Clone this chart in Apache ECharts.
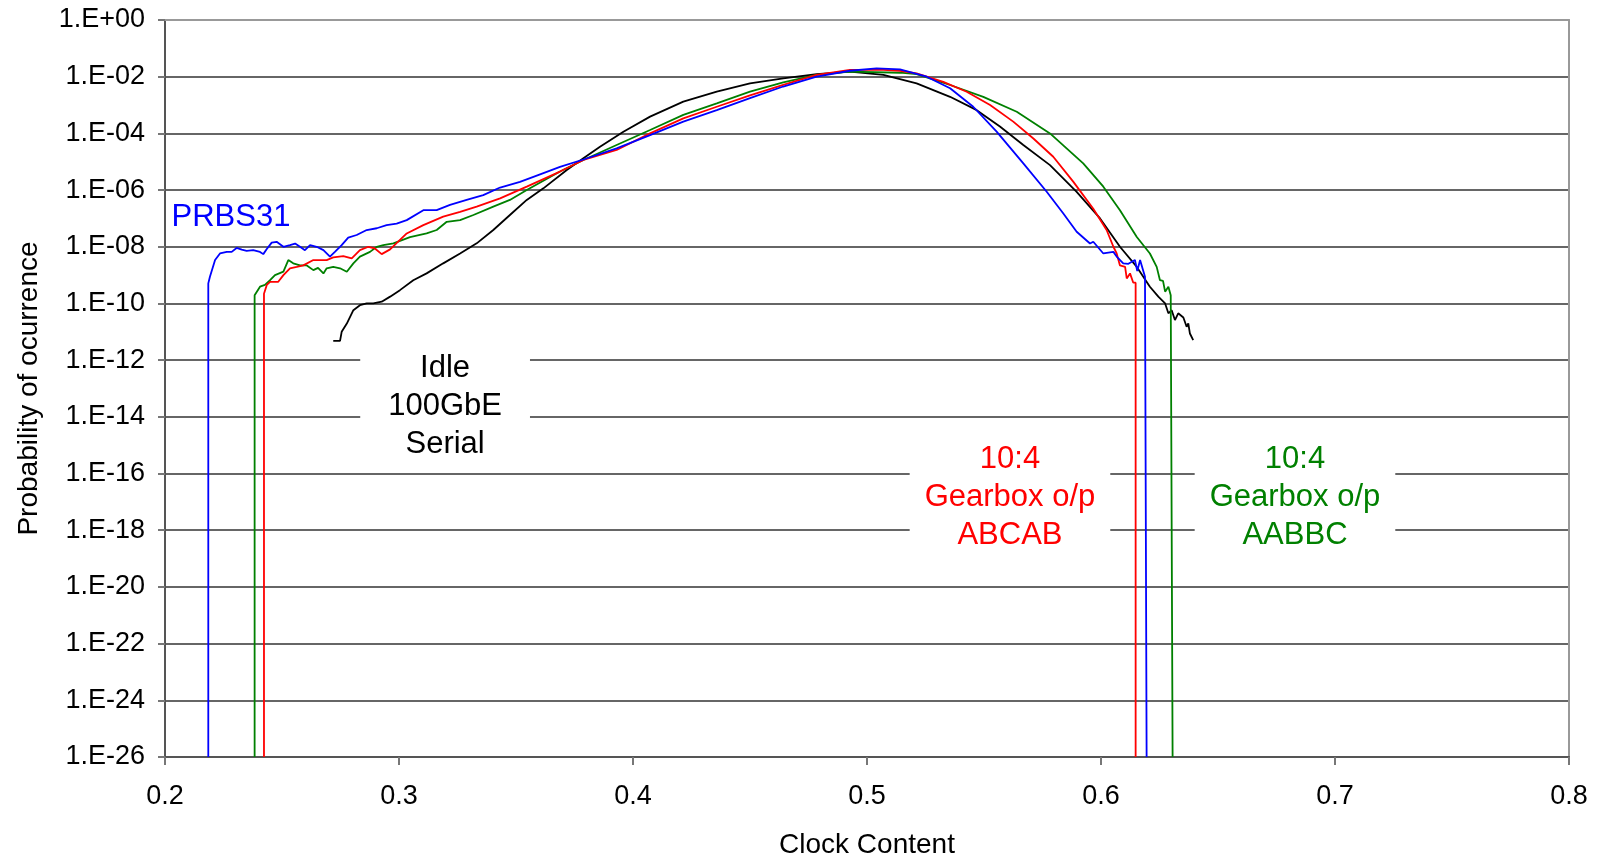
<!DOCTYPE html>
<html>
<head>
<meta charset="utf-8">
<script src="https://cdn.jsdelivr.net/npm/echarts@6/dist/echarts.min.js"></script>
<style>
  html, body { margin: 0; padding: 0; background: #fff; }
  #chart { width: 1599px; height: 860px; }
</style>
</head>
<body>
<div id="chart"></div>
<script>
// ---- Data ----
const xTicks = [0.2, 0.3, 0.4, 0.5, 0.6, 0.7, 0.8];
const yTickExps = [0, -2, -4, -6, -8, -10, -12, -14, -16, -18, -20, -22, -24, -26];

const prbsX = [0.2185,0.2185,0.2192,0.2214,0.2235,0.2264,0.2285,0.2306,0.2328,0.2349,0.2377,0.2406,0.2420,0.2435,0.2456,0.2477,0.2506,0.2534,0.2556,0.2577,0.2598,0.2620,0.2648,0.2677,0.2705,0.2726,0.2755,0.2783,0.2819,0.2862,0.2905,0.2947,0.2990,0.3033,0.3104,0.3161,0.3218,0.3289,0.3360,0.3432,0.3517,0.3603,0.3688,0.3788,0.3930,0.4073,0.4215,0.4358,0.4500,0.4642,0.4785,0.4927,0.5041,0.5141,0.5255,0.5355,0.5454,0.5554,0.5668,0.5768,0.5839,0.5896,0.5953,0.5967,0.6010,0.6053,0.6067,0.6095,0.6117,0.6145,0.6155,0.6167,0.6188,0.6195,0.6195];
const prbsP = [1e-26,5.1e-10,8.7e-10,3.4e-9,5.8e-9,6.6e-9,6.6e-9,9.1e-9,7.9e-9,7.2e-9,7.6e-9,6.6e-9,5.5e-9,8.3e-9,1.4e-8,1.5e-8,1.0e-8,1.15e-8,1.3e-8,1.0e-8,7.6e-9,1.15e-8,1.0e-8,7.6e-9,4.5e-9,6.6e-9,1.15e-8,2.1e-8,2.6e-8,3.9e-8,4.5e-8,5.8e-8,6.6e-8,8.7e-8,1.95e-7,1.95e-7,3.0e-7,4.5e-7,6.6e-7,1.23e-6,1.95e-6,3.6e-6,6.6e-6,1.2e-5,2.95e-5,8.7e-5,2.6e-4,6.6e-4,1.74e-3,4.5e-3,1.0e-2,1.62e-2,1.95e-2,1.82e-2,1.0e-2,3.9e-3,8.7e-4,1.15e-4,8.7e-6,8.7e-7,1.5e-7,3.4e-8,1.3e-8,1.5e-8,5.8e-9,6.6e-9,4.5e-9,2.6e-9,2.5e-9,3.4e-9,1.4e-9,3.4e-9,8.7e-10,8.7e-10,1e-26];

const abcabX = [0.2423,0.2423,0.2435,0.2449,0.2484,0.2506,0.2534,0.2563,0.2591,0.2634,0.2691,0.2719,0.2762,0.2798,0.2833,0.2869,0.2897,0.2926,0.2962,0.3033,0.3104,0.3189,0.3261,0.3332,0.3432,0.3546,0.3688,0.3788,0.3930,0.4073,0.4215,0.4358,0.4500,0.4642,0.4785,0.4927,0.5070,0.5141,0.5212,0.5326,0.5426,0.5526,0.5625,0.5711,0.5796,0.5882,0.5967,0.6024,0.6053,0.6067,0.6081,0.6103,0.6110,0.6124,0.6138,0.6148,0.6148];
const abcabP = [1e-26,2.2e-10,4.5e-10,5.8e-10,5.8e-10,1.0e-9,1.74e-9,1.95e-9,2.2e-9,3.4e-9,3.4e-9,4.2e-9,4.7e-9,3.9e-9,7.6e-9,1.0e-8,8.7e-9,5.5e-9,8.1e-9,2.95e-8,5.8e-8,1.15e-7,1.7e-7,2.6e-7,5.1e-7,1.32e-6,4.5e-6,1.15e-5,2.6e-5,1.0e-4,3.4e-4,8.7e-4,2.2e-3,5.1e-3,1.15e-2,1.74e-2,1.74e-2,1.62e-2,1.32e-2,6.6e-3,2.95e-3,1.0e-3,2.6e-4,6.6e-5,1.5e-5,1.95e-6,2.2e-7,3.9e-8,1.0e-8,5.8e-9,2.2e-9,1.95e-9,7.6e-10,1.15e-9,5.4e-10,5.4e-10,1e-26];

const aabbcX = [0.2383,0.2383,0.2406,0.2427,0.2449,0.2470,0.2506,0.2527,0.2548,0.2577,0.2606,0.2634,0.2654,0.2677,0.2691,0.2719,0.2748,0.2777,0.2805,0.2833,0.2876,0.2905,0.2933,0.2976,0.3047,0.3118,0.3161,0.3204,0.3261,0.3318,0.3403,0.3474,0.3546,0.3688,0.3788,0.3930,0.4073,0.4215,0.4358,0.4500,0.4642,0.4785,0.4927,0.5141,0.5212,0.5355,0.5497,0.5640,0.5782,0.5924,0.6010,0.6081,0.6153,0.6209,0.6238,0.6252,0.6265,0.6274,0.6288,0.6298,0.6306,0.6306];
const aabbcP = [1e-26,1.95e-10,3.9e-10,4.5e-10,6.6e-10,1.0e-9,1.32e-9,3.4e-9,2.6e-9,2.2e-9,2.2e-9,1.5e-9,1.8e-9,1.15e-9,1.74e-9,1.95e-9,1.74e-9,1.32e-9,2.6e-9,4.5e-9,6.6e-9,1.0e-8,1.15e-8,1.32e-8,2.2e-8,2.95e-8,3.9e-8,7.6e-8,8.7e-8,1.32e-7,2.6e-7,4.5e-7,1.0e-6,4.5e-6,1.15e-5,3.9e-5,1.32e-4,4.5e-4,1.15e-3,2.95e-3,6.3e-3,1.15e-2,1.5e-2,1.38e-2,1.23e-2,5.1e-3,1.95e-3,5.8e-4,1.0e-4,8.7e-6,1.32e-6,1.95e-7,2.2e-8,5.8e-9,1.95e-9,6.6e-10,6.3e-10,2.6e-10,3.9e-10,1.95e-10,1.95e-10,1e-26];

const idleX = [0.2719,0.2748,0.2755,0.2777,0.2805,0.2833,0.2862,0.2890,0.2926,0.2962,0.3004,0.3061,0.3118,0.3189,0.3261,0.3332,0.3403,0.3474,0.3546,0.3617,0.3717,0.3788,0.3859,0.3959,0.4073,0.4215,0.4358,0.4500,0.4642,0.4785,0.4927,0.5070,0.5212,0.5355,0.5469,0.5568,0.5668,0.5782,0.5896,0.5996,0.6081,0.6153,0.6209,0.6245,0.6274,0.6288,0.6302,0.6316,0.6330,0.6352,0.6366,0.6373,0.6380,0.6394];
const idleP = [4.8e-12,4.8e-12,1.0e-11,1.95e-11,5.8e-11,8.7e-11,1.0e-10,1.0e-10,1.15e-10,1.74e-10,2.95e-10,6.6e-10,1.15e-9,2.6e-9,5.8e-9,1.32e-8,3.9e-8,1.32e-7,4.5e-7,1.15e-6,5.1e-6,1.32e-5,3.4e-5,1.15e-4,3.9e-4,1.32e-3,2.95e-3,5.8e-3,8.7e-3,1.23e-2,1.5e-2,1.15e-2,5.8e-3,1.95e-3,6.6e-4,1.74e-4,3.9e-5,7.6e-6,8.7e-7,1.0e-7,1.0e-8,1.95e-9,3.9e-10,1.74e-10,1.0e-10,4.5e-11,5.8e-11,2.6e-11,4.5e-11,3.2e-11,1.5e-11,2.0e-11,8.7e-12,5.1e-12];

// Annotation labels (text, colour, anchor in data coordinates)
const noteText  = ['PRBS31', 'Idle\n100GbE\nSerial', '10:4\nGearbox o/p\nABCAB', '10:4\nGearbox o/p\nAABBC'];
const noteColor = ['#0000ff', '#000000', '#ff0000', '#008000'];
const noteX     = [0.2282, 0.3197, 0.5611, 0.6829];
const noteP     = [1.1e-7, 2.3e-14, 1.4e-17, 1.4e-17];
const noteBoxed = [false, true, true, true];

// ---- Chart ----
// The y axis is a decade (log10) scale: probabilities are placed by their exponent.
const FONT = '"Liberation Sans", Arial, sans-serif';
const zip = (xs, ps) => xs.map((x, i) => [x, Math.log10(ps[i])]);
const fmtExp = v => {
  const e = Math.round(v);
  const a = Math.abs(e);
  return '1.E' + (e < 0 ? '-' : '+') + (a < 10 ? '0' + a : '' + a);
};
const yMin = yTickExps[yTickExps.length - 1], yMax = yTickExps[0];
const yStep = yTickExps[0] - yTickExps[1];
const xStep = +(xTicks[1] - xTicks[0]).toFixed(6);

const lineSeries = (name, xs, ps, color) => ({
  name, type: 'line', data: zip(xs, ps), symbol: 'none', smooth: false,
  lineStyle: { color, width: 1.8 }, z: 3, silent: true
});

const chart = echarts.init(document.getElementById('chart'), null, { renderer: 'canvas' });
chart.setOption({
  animation: false,
  backgroundColor: '#fff',
  grid: { left: 165, right: 30, top: 20, bottom: 103, containLabel: false, outerBoundsMode: 'none' },
  xAxis: [{
    type: 'value', min: xTicks[0], max: xTicks[xTicks.length - 1], interval: xStep,
    name: 'Clock Content', nameLocation: 'middle', nameGap: 74,
    nameTextStyle: { fontFamily: FONT, fontSize: 28, color: '#000' },
    axisLine: { show: true, onZero: false, lineStyle: { color: '#555', width: 2 } },
    axisTick: { show: true, length: 8, lineStyle: { color: '#777', width: 2 } },
    axisLabel: { fontFamily: FONT, fontSize: 27, color: '#000', margin: 26,
                 formatter: v => v.toFixed(1) },
    splitLine: { show: false }
  }, {
    type: 'value', min: xTicks[0], max: xTicks[xTicks.length - 1], position: 'top',
    axisLine: { show: true, onZero: false, lineStyle: { color: '#999', width: 2 } },
    axisTick: { show: false }, axisLabel: { show: false }, splitLine: { show: false }
  }],
  yAxis: [{
    type: 'value', min: yMin, max: yMax, interval: yStep,
    name: 'Probability of ocurrence', nameLocation: 'middle', nameGap: 122,
    nameTextStyle: { fontFamily: FONT, fontSize: 28, color: '#000' },
    axisLine: { show: true, onZero: false, lineStyle: { color: '#555', width: 2 } },
    axisTick: { show: true, length: 7, lineStyle: { color: '#777', width: 2 } },
    axisLabel: { fontFamily: FONT, fontSize: 27, color: '#000', margin: 20,
                 formatter: fmtExp },
    splitLine: { show: true, lineStyle: { color: '#333', width: 1.5 } }
  }, {
    type: 'value', min: yMin, max: yMax, position: 'right',
    axisLine: { show: true, onZero: false, lineStyle: { color: '#999', width: 2 } },
    axisTick: { show: false }, axisLabel: { show: false }, splitLine: { show: false }
  }],
  series: [
    lineSeries('Idle 100GbE Serial', idleX, idleP, '#000000'),
    lineSeries('AABBC', aabbcX, aabbcP, '#008000'),
    lineSeries('ABCAB', abcabX, abcabP, '#ff0000'),
    lineSeries('PRBS31', prbsX, prbsP, '#0000ff'),
    {
      type: 'scatter', symbolSize: 0, silent: true, z: 5,
      itemStyle: { opacity: 1 },
      data: noteText.map((t, i) => ({
        value: [noteX[i], Math.log10(noteP[i])],
        label: {
          show: true, position: 'inside', formatter: t,
          color: noteColor[i], fontFamily: FONT, fontSize: 31, lineHeight: 38,
          align: 'center', verticalAlign: 'middle',
          textBorderWidth: 0, textBorderColor: 'transparent', opacity: 1,
          backgroundColor: noteBoxed[i] ? '#fff' : 'transparent',
          padding: noteBoxed[i] ? [2, i === 1 ? 28 : 15] : 0
        }
      }))
    }
  ]
});
</script>
</body>
</html>
